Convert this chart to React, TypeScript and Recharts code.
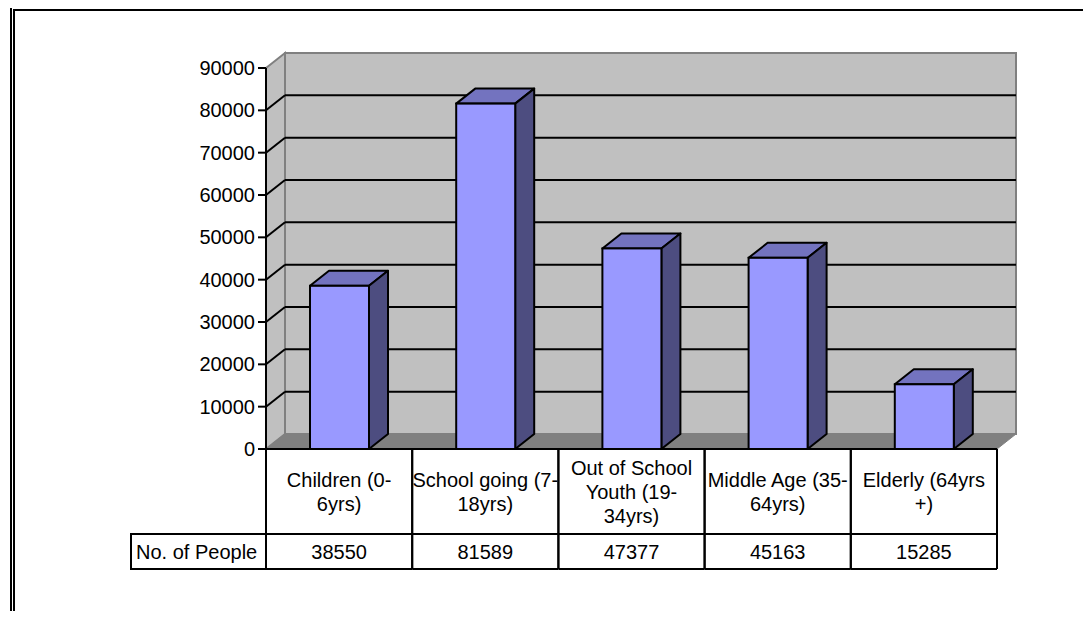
import { BarChart, Bar, XAxis, YAxis, CartesianGrid } from 'recharts';

const categories = [
  'Children (0-6yrs)',
  'School going (7-18yrs)',
  'Out of School Youth (19-34yrs)',
  'Middle Age (35-64yrs)',
  'Elderly (64yrs +)',
];
// how the category names wrap inside the data table cells
const categoryLines = [
  ['Children (0-', '6yrs)'],
  ['School going (7-', '18yrs)'],
  ['Out of School', 'Youth (19-', '34yrs)'],
  ['Middle Age (35-', '64yrs)'],
  ['Elderly (64yrs', '+)'],
];
const people = [38550, 81589, 47377, 45163, 15285];
const yTicks = [0, 10000, 20000, 30000, 40000, 50000, 60000, 70000, 80000, 90000];
const seriesName = 'No. of People';

const data = categories.map((name, i) => ({ name, people: people[i] }));

const W = 1091;
const H = 619;
const PLOT_LEFT = 266;
const PLOT_RIGHT = 997;
const PLOT_TOP = 68;
const PLOT_BOTTOM = 449;
const Y_AXIS_W = 80;
const X_AXIS_H = 130;
const ROW1_BOTTOM = 534;
const ROW2_BOTTOM = 569;
const LABEL_CELL_LEFT = 131;

// 3d depth offset
const DX = 19;
const DY = 15;

const FONT = "'Liberation Sans', Arial, sans-serif";
const FS = 20;

const WALL = '#c0c0c0';
const WALL_EDGE = '#808080';
const FLOOR = '#808080';
const FRONT = '#9999ff';
const TOP = '#7373bf';
const SIDE = '#4d4d80';

function Walls({ left, right }: { left: number; right: number }) {
  return (
    <g>
      {/* left side wall */}
      <polygon
        points={`${left},${PLOT_TOP} ${left + DX},${PLOT_TOP - DY} ${left + DX},${PLOT_BOTTOM - DY} ${left},${PLOT_BOTTOM}`}
        fill={WALL}
        stroke={WALL_EDGE}
        strokeWidth={2}
      />
      {/* back wall */}
      <rect
        x={left + DX}
        y={PLOT_TOP - DY}
        width={right - left}
        height={PLOT_BOTTOM - PLOT_TOP}
        fill={WALL}
        stroke={WALL_EDGE}
        strokeWidth={2}
      />
      {/* floor */}
      <polygon
        points={`${left},${PLOT_BOTTOM} ${right},${PLOT_BOTTOM} ${right + DX},${PLOT_BOTTOM - DY} ${left + DX},${PLOT_BOTTOM - DY}`}
        fill={FLOOR}
        stroke={WALL_EDGE}
        strokeWidth={1}
      />
    </g>
  );
}

function GridLine(props: any) {
  const { x1, x2, y1, index } = props;
  const isEdge = Math.abs(y1 - PLOT_TOP) < 1 || Math.abs(y1 - PLOT_BOTTOM) < 1;
  return (
    <g key={props.key}>
      {index === 0 && <Walls left={x1} right={x2} />}
      {!isEdge && (
        <>
          <line x1={x1} y1={y1} x2={x1 + DX} y2={y1 - DY} stroke="#000" strokeWidth={2} />
          <line x1={x1 + DX} y1={y1 - DY} x2={x2 + DX} y2={y1 - DY} stroke="#000" strokeWidth={2} />
        </>
      )}
    </g>
  );
}

function Bar3D(props: any) {
  const { x, y, width, height } = props;
  if (!height) return null;
  return (
    <g>
      <polygon
        points={`${x},${y} ${x + DX},${y - DY} ${x + width + DX},${y - DY} ${x + width},${y}`}
        fill={TOP}
        stroke="#000"
        strokeWidth={2}
        strokeLinejoin="round"
      />
      <polygon
        points={`${x + width},${y} ${x + width + DX},${y - DY} ${x + width + DX},${y + height - DY} ${x + width},${y + height}`}
        fill={SIDE}
        stroke="#000"
        strokeWidth={2}
        strokeLinejoin="round"
      />
      <rect x={x} y={y} width={width} height={height} fill={FRONT} stroke="#000" strokeWidth={2} />
    </g>
  );
}

function YTick(props: any) {
  const { x, y, payload } = props;
  return (
    <text x={x - 1} y={y} dy={7} textAnchor="end" fontFamily={FONT} fontSize={FS} fill="#000">
      {payload.value}
    </text>
  );
}

function TableTick(props: any) {
  const { x, payload, index } = props;
  const i = payload.index ?? index;
  const cw = (PLOT_RIGHT - PLOT_LEFT) / categories.length;
  const left = x - cw / 2;
  const right = x + cw / 2;
  const lines = categoryLines[i] || [payload.value];
  const mid = (PLOT_BOTTOM + ROW1_BOTTOM) / 2;
  const valMid = (ROW1_BOTTOM + ROW2_BOTTOM) / 2;
  return (
    <g>
      {lines.map((ln, k) => (
        <text
          key={k}
          x={x}
          y={mid + (k - (lines.length - 1) / 2) * 24}
          dy={7}
          textAnchor="middle"
          fontFamily={FONT}
          fontSize={FS}
          fill="#000"
        >
          {ln}
        </text>
      ))}
      <text x={x} y={valMid} dy={7} textAnchor="middle" fontFamily={FONT} fontSize={FS} fill="#000">
        {people[i]}
      </text>
      <line x1={left} y1={PLOT_BOTTOM} x2={left} y2={ROW2_BOTTOM} stroke="#000" strokeWidth={2} />
      <line x1={right} y1={PLOT_BOTTOM} x2={right} y2={ROW2_BOTTOM} stroke="#000" strokeWidth={2} />
      <line x1={left} y1={ROW1_BOTTOM} x2={right} y2={ROW1_BOTTOM} stroke="#000" strokeWidth={2} />
      <line x1={left} y1={ROW2_BOTTOM} x2={right} y2={ROW2_BOTTOM} stroke="#000" strokeWidth={2} />
      {i === 0 && (
        <g>
          <rect
            x={LABEL_CELL_LEFT}
            y={ROW1_BOTTOM}
            width={left - LABEL_CELL_LEFT}
            height={ROW2_BOTTOM - ROW1_BOTTOM}
            fill="none"
            stroke="#000"
            strokeWidth={2}
          />
          <text x={LABEL_CELL_LEFT + 5} y={valMid} dy={7} fontFamily={FONT} fontSize={FS} fill="#000">
            {seriesName}
          </text>
        </g>
      )}
    </g>
  );
}

export default function App() {
  return (
    <div
      style={{
        position: 'relative',
        width: W,
        height: H,
        margin: -8,
        overflow: 'hidden',
        background: '#fff',
      }}
    >
      {/* double frame round the chart area */}
      <div style={{ position: 'absolute', left: 10, top: 6, width: 2000, height: 2000, border: '2px solid #000' }} />
      <div style={{ position: 'absolute', left: 13, top: 9, width: 2000, height: 2000, border: '2px solid #000' }} />
      <div style={{ position: 'absolute', left: 0, top: 0 }}>
        <BarChart
          width={W}
          height={H}
          data={data}
          margin={{
            top: PLOT_TOP,
            right: W - PLOT_RIGHT,
            left: PLOT_LEFT - Y_AXIS_W,
            bottom: H - PLOT_BOTTOM - X_AXIS_H,
          }}
        >
          <CartesianGrid vertical={false} horizontal={(p: any) => <GridLine {...p} />} />
          <XAxis
            dataKey="name"
            height={X_AXIS_H}
            interval={0}
            tickLine={false}
            axisLine={{ stroke: '#000', strokeWidth: 2 }}
            tick={(p: any) => <TableTick {...p} />}
          />
          <YAxis
            type="number"
            domain={[0, 90000]}
            ticks={yTicks}
            interval={0}
            width={Y_AXIS_W}
            tickSize={8}
            tickLine={{ stroke: '#000', strokeWidth: 2 }}
            axisLine={{ stroke: '#000', strokeWidth: 2 }}
            tick={(p: any) => <YTick {...p} />}
          />
          <Bar dataKey="people" name={seriesName} barSize={59} shape={(p: any) => <Bar3D {...p} />} isAnimationActive={false} />
        </BarChart>
      </div>
    </div>
  );
}
